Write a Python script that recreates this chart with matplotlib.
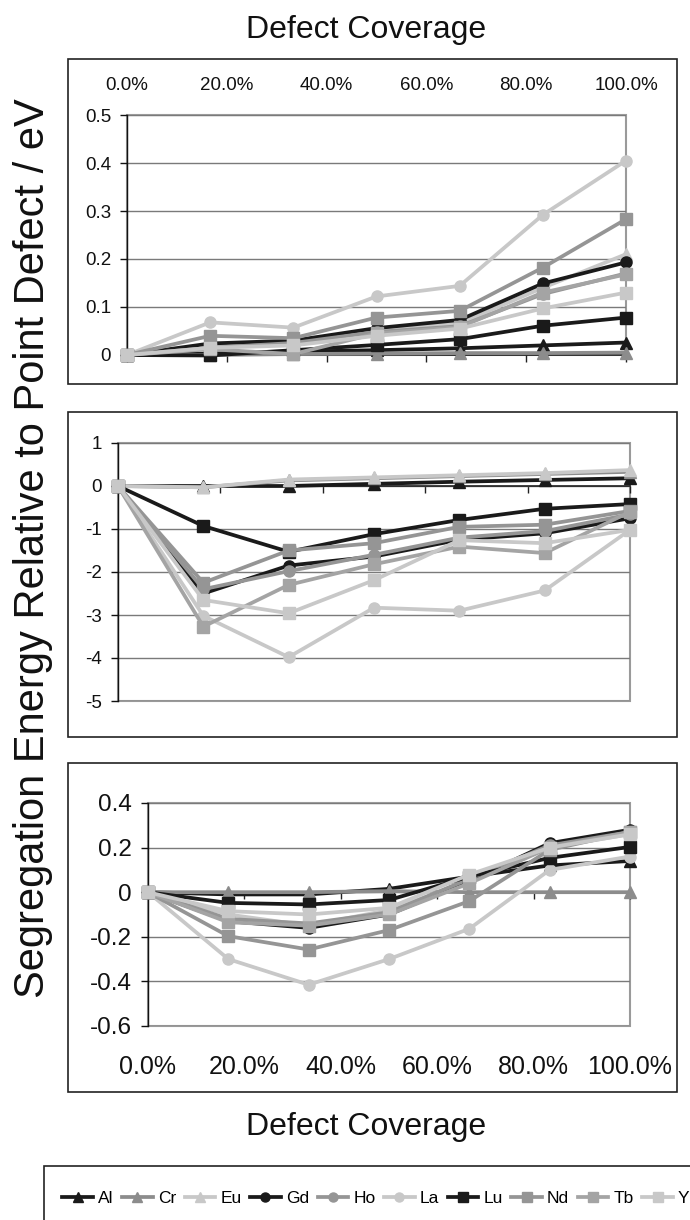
import matplotlib
matplotlib.use("Agg")
import matplotlib.pyplot as plt
from matplotlib.patches import Rectangle
from matplotlib.lines import Line2D
from matplotlib.ticker import FuncFormatter

plt.rcParams['font.family'] = ['Liberation Sans', 'DejaVu Sans']
plt.rcParams['axes.unicode_minus'] = False

# ---------------- data ----------------
coverage = [0.0, 0.1667, 0.3333, 0.5, 0.6667, 0.8333, 1.0]
elements = ['Al', 'Cr', 'Eu', 'Gd', 'Ho', 'La', 'Lu', 'Nd', 'Tb', 'Y']

top_vals = {
    'Al': [0, 0.003, 0.007, 0.010, 0.014, 0.020, 0.026],
    'Cr': [0, 0.000, 0.002, 0.003, 0.004, 0.004, 0.005],
    'Eu': [0, 0.020, 0.028, 0.052, 0.066, 0.140, 0.210],
    'Gd': [0, 0.024, 0.030, 0.056, 0.073, 0.149, 0.193],
    'Ho': [0, 0.015, 0.025, 0.048, 0.060, 0.127, 0.170],
    'La': [0, 0.068, 0.057, 0.122, 0.144, 0.292, 0.405],
    'Lu': [0, -0.001, 0.010, 0.021, 0.033, 0.061, 0.078],
    'Nd': [0, 0.040, 0.035, 0.078, 0.092, 0.182, 0.283],
    'Tb': [0, 0.012, 0.002, 0.045, 0.058, 0.130, 0.168],
    'Y':  [0, 0.015, 0.020, 0.040, 0.055, 0.097, 0.130],
}
mid_vals = {
    'Al': [0, 0.00, 0.00, 0.05, 0.10, 0.14, 0.18],
    'Cr': [0, -0.03, 0.13, 0.18, 0.23, 0.28, 0.33],
    'Eu': [0, -0.03, 0.15, 0.20, 0.25, 0.30, 0.37],
    'Gd': [0, -2.50, -1.85, -1.64, -1.25, -1.10, -0.75],
    'Ho': [0, -2.40, -1.98, -1.60, -1.20, -1.05, -0.66],
    'La': [0, -3.02, -3.98, -2.83, -2.90, -2.43, -1.02],
    'Lu': [0, -0.93, -1.53, -1.12, -0.79, -0.53, -0.42],
    'Nd': [0, -2.25, -1.50, -1.33, -0.95, -0.90, -0.58],
    'Tb': [0, -3.27, -2.30, -1.82, -1.41, -1.56, -0.60],
    'Y':  [0, -2.65, -2.96, -2.19, -1.26, -1.33, -1.02],
}
bot_vals = {
    'Al': [0, -0.010, -0.010, 0.015, 0.070, 0.120, 0.140],
    'Cr': [0, 0.000, 0.000, 0.005, 0.000, 0.000, 0.000],
    'Eu': [0, -0.100, -0.150, -0.080, 0.050, 0.200, 0.260],
    'Gd': [0, -0.130, -0.160, -0.100, 0.050, 0.220, 0.280],
    'Ho': [0, -0.120, -0.140, -0.090, 0.060, 0.210, 0.270],
    'La': [0, -0.300, -0.415, -0.300, -0.164, 0.100, 0.160],
    'Lu': [0, -0.048, -0.055, -0.035, 0.070, 0.154, 0.203],
    'Nd': [0, -0.197, -0.257, -0.170, -0.040, 0.190, 0.270],
    'Tb': [0, -0.135, -0.150, -0.100, 0.040, 0.200, 0.270],
    'Y':  [0, -0.085, -0.100, -0.070, 0.079, 0.200, 0.260],
}

x_ticks = [0.0, 0.2, 0.4, 0.6, 0.8, 1.0]
top_yticks = [0, 0.1, 0.2, 0.3, 0.4, 0.5]
mid_yticks = [1, 0, -1, -2, -3, -4, -5]
bot_yticks = [0.4, 0.2, 0, -0.2, -0.4, -0.6]

# ---------------- styles ----------------
BLACK = '#1a1a1a'
MID = '#959595'
TB = '#a4a4a4'
LIGHT = '#c8c8c8'
style = {
    'Al': (BLACK, '^'), 'Cr': ('#8c8c8c', '^'), 'Eu': (LIGHT, '^'),
    'Gd': (BLACK, 'o'), 'Ho': (MID, 'o'), 'La': (LIGHT, 'o'),
    'Lu': (BLACK, 's'), 'Nd': (MID, 's'), 'Tb': (TB, 's'), 'Y': (LIGHT, 's'),
}

W, H = 690, 1220
fig = plt.figure(figsize=(W / 100, H / 100), dpi=100)


def fr(x0, y0, x1, y1):
    return [x0 / W, 1 - y1 / H, (x1 - x0) / W, (y1 - y0) / H]


# panel frames
for (y0, y1) in [(59, 384), (412, 737), (763, 1092)]:
    fig.add_artist(Rectangle((68 / W, 1 - y1 / H), (677 - 68) / W, (y1 - y0) / H,
                             transform=fig.transFigure, fill=False,
                             edgecolor='#222222', linewidth=1.2))
# legend frame
fig.add_artist(Rectangle((44 / W, -0.05), 1.0, 1 - 1166 / H + 0.05,
                         transform=fig.transFigure, fill=False,
                         edgecolor='#222222', linewidth=1.2, clip_on=False))

pct_fmt = FuncFormatter(lambda v, p: f'{v * 100:.1f}%')
num_fmt = FuncFormatter(lambda v, p: f'{round(v, 3):g}')


def setup(ax, vals, yticks, ylim, ytick_size):
    for el in elements:
        c, m = style[el]
        ax.plot(coverage, vals[el], color=c, marker=m, markersize=8,
                linewidth=2.7, clip_on=False, zorder=3, label=el)
    ax.set_xlim(0, 1)
    ax.set_ylim(*ylim)
    ax.set_yticks(yticks)
    ax.yaxis.set_major_formatter(num_fmt)
    ax.yaxis.grid(True, color='#7a7a7a', linewidth=1.0)
    ax.set_axisbelow(True)
    ax.spines['top'].set_visible(False)
    ax.spines['right'].set_visible(False)
    ax.spines['left'].set_color('#111111')
    ax.spines['left'].set_linewidth(1.0)
    ax.spines['bottom'].set_position(('data', 0))
    ax.spines['bottom'].set_color('#222222')
    ax.spines['bottom'].set_linewidth(1.2)
    ax.patch.set_edgecolor('#9a9a9a')
    ax.patch.set_linewidth(1.5)
    ax.set_xticks(x_ticks)
    ax.tick_params(axis='x', direction='out', length=5, width=1,
                   colors='#222222', labelbottom=False)
    ax.tick_params(axis='y', direction='out', length=5, width=1,
                   colors='#111111', labelsize=ytick_size, pad=6.5)


ax1 = fig.add_axes(fr(127, 115, 626, 355))
setup(ax1, top_vals, top_yticks, (0, 0.5), 13.5)
sec1 = ax1.secondary_xaxis('top')
sec1.set_xticks(x_ticks)
sec1.xaxis.set_major_formatter(pct_fmt)
sec1.tick_params(length=0, labelsize=13.5, pad=15, colors='#111111')
sec1.spines['top'].set_visible(False)

ax2 = fig.add_axes(fr(118, 443, 630, 701))
setup(ax2, mid_vals, mid_yticks, (-5, 1), 13.5)

ax3 = fig.add_axes(fr(148, 803, 630, 1026))
setup(ax3, bot_vals, bot_yticks, (-0.6, 0.4), 17.5)
sec3 = ax3.secondary_xaxis('bottom')
sec3.set_xticks(x_ticks)
sec3.xaxis.set_major_formatter(pct_fmt)
sec3.tick_params(length=0, labelsize=18, pad=21, colors='#111111')
sec3.spines['bottom'].set_visible(False)

# titles
fig.text(366 / W, 1 - 30 / H, 'Defect Coverage', ha='center', va='center',
         fontsize=23, color='#111111')
fig.text(366 / W, 1 - 1127 / H, 'Defect Coverage', ha='center', va='center',
         fontsize=23, color='#111111')
fig.text(33 / W, 1 - 548 / H, 'Segregation Energy Relative to Point Defect / eV',
         ha='center', va='center', rotation=90, fontsize=30, color='#111111')

handles = [Line2D([], [], color=style[el][0], marker=style[el][1], markersize=6.5,
                  linewidth=2.7) for el in elements]
fig.legend(handles, elements, loc='center', bbox_to_anchor=(376 / W, 1 - 1198 / H),
           ncol=10, frameon=False, fontsize=12.5, handlelength=1.75,
           handletextpad=0.3, columnspacing=0.5, borderaxespad=0)

fig.savefig('out.png', dpi=100)
